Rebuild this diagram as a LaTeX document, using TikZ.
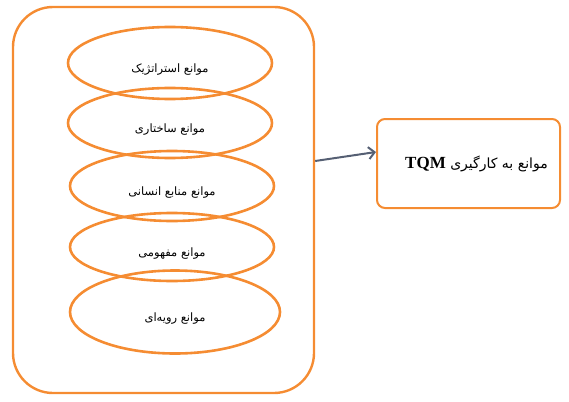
\documentclass[tikz,border=0pt]{standalone}
\usepackage{fontspec}
\setmainfont{Liberation Serif}
\newfontfamily\arabicfont[Script=Arabic]{DejaVu Sans}
\TeXXeTstate=1
\usetikzlibrary{shapes.geometric, arrows.meta}
\definecolor{barorange}{RGB}{245,140,50}
\definecolor{arrowgray}{RGB}{85,95,115}

\begin{document}
\begin{tikzpicture}[x = 1pt, y = -1pt,
    barrier/.style = {draw = barorange, line width = 2.6pt, ellipse, inner sep = 0pt,
        minimum width = 204pt, minimum height = 72pt, text height = 21pt, text depth = 2pt,
        font = \arabicfont\fontsize{11.5}{13}\selectfont},
    frame/.style = {draw = barorange, line width = 2.4pt}] % barriers of TQM
        \useasboundingbox (0, 0) rectangle (569, 401);

        % Outer group
        \node[frame, rectangle, rounded corners = 40pt, minimum width = 301pt, minimum height = 386pt] (group) at (163.5, 200) {};

        % Barriers
        \node[barrier] (strategic) at (170, 63) {\beginR موانع استراتژیک\endR};
        \node[barrier, minimum height = 70pt] (structural) at (170, 123) {\beginR موانع ساختاری\endR};
        \node[barrier, minimum height = 70pt] (human) at (172, 186) {\beginR موانع منابع انسانی\endR};
        \node[barrier, minimum height = 68pt] (concept) at (172, 247) {\beginR موانع مفهومی\endR};
        \node[barrier, minimum width = 210pt, minimum height = 83pt] (procedure) at (175, 312) {\beginR موانع رویه‌ای\endR};

        % Result
        \node[frame, rectangle, rounded corners = 8pt, line width = 2pt, minimum width = 183pt, minimum height = 89pt] (target) at (468.5, 163.5)
            {\hspace*{16pt}\arabicfont\fontsize{14}{16}\selectfont\beginR موانع به کارگیری \beginL{\rmfamily\bfseries\fontsize{17}{19}\selectfont TQM}\endL\endR};

        \draw[-{Straight Barb[length = 6pt, width = 12pt]}, arrowgray, line width = 2pt] ([yshift = 39pt]group.east) -- ([yshift = 11.5pt]target.west);
    \end{tikzpicture}
\end{document}
